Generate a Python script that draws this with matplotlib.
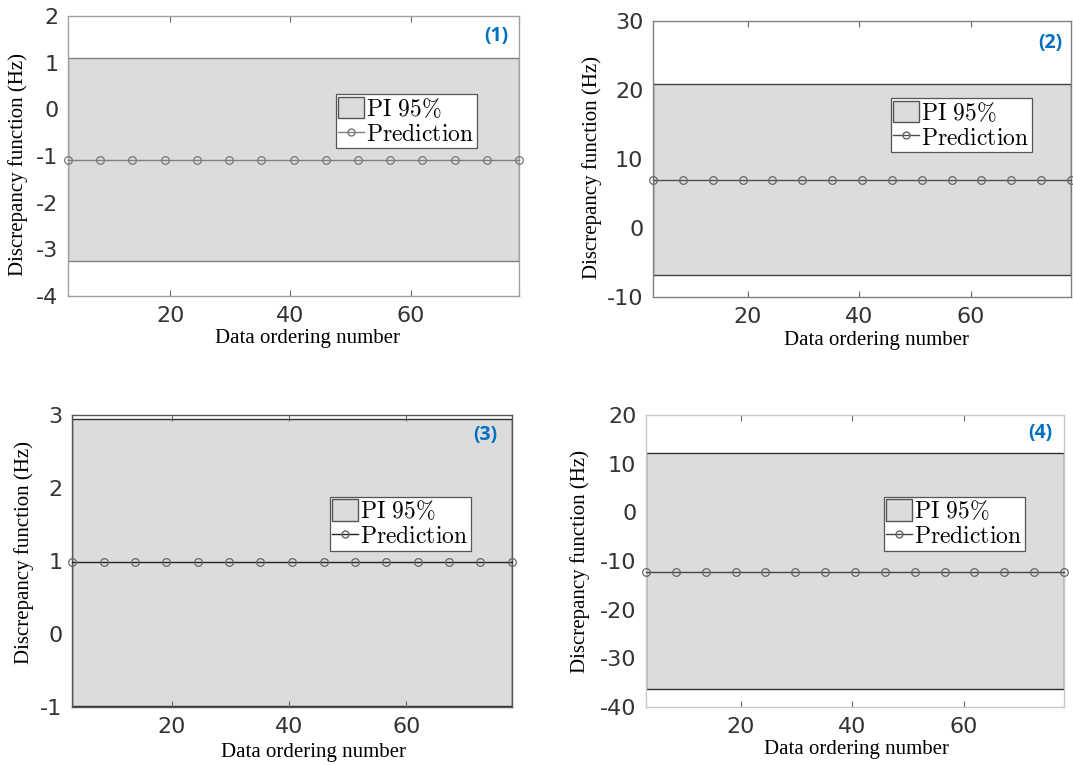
import matplotlib
matplotlib.use("Agg")
import matplotlib.pyplot as plt
from matplotlib.patches import Patch
from matplotlib.lines import Line2D

plt.rcParams['mathtext.fontset'] = 'cm'

# ---- data ----
panel_labels = ["(1)", "(2)", "(3)", "(4)"]
x_points = [3, 8.4, 13.7, 19.1, 24.4, 29.8, 35.1, 40.5, 45.9, 51.2, 56.6, 61.9, 67.3, 72.6, 78]
pred_1 = [-1.08] * 15
pred_2 = [7.0] * 15
pred_3 = [0.98] * 15
pred_4 = [-12.2] * 15
band_lo = [-3.24, -6.8, -0.98, -36.2]
band_hi = [1.10, 20.8, 2.95, 12.2]
ylims = [(-4, 2), (-10, 30), (-1, 3), (-40, 20)]
yticks_list = [[-4, -3, -2, -1, 0, 1, 2],
               [-10, 0, 10, 20, 30],
               [-1, 0, 1, 2, 3],
               [-40, -30, -20, -10, 0, 10, 20]]
xticks = [20, 40, 60]
xlim = (3, 78)
preds = [pred_1, pred_2, pred_3, pred_4]

# ---- layout / style (pixels converted to figure fractions) ----
W, H = 1073, 765
boxes_px = [(68, 16, 519, 296), (653, 21, 1071, 297), (72, 415, 512, 707), (646, 415, 1064, 707)]
ylabel_xy = [(-0.11, 0.468), (-0.146, 0.469), (-0.108, 0.529), (-0.158, 0.497)]
xlabel_xy = [(0.532, -0.153), (0.534, -0.157), (0.549, -0.155), (0.504, -0.145)]
plabel_xy = [(0.95, 0.93), (0.95, 0.92), (0.94, 0.93), (0.944, 0.94)]
spine_col = ['#a0a0a0', '#808080', '#555555', '#c8c8c8']
band_edge = ['#808080', '#404040', '#303030', '#303030']
line_col = ['#808080', '#505050', '#222222', '#444444']
marker_col = ['#777777', '#666666', '#666666', '#666666']

fig = plt.figure(figsize=(W / 100, H / 100), dpi=100)

for i in range(4):
    l, t, r, b = boxes_px[i]
    ax = fig.add_axes([l / W, 1 - b / H, (r - l) / W, (b - t) / H])
    ax.fill_between(x_points, band_lo[i], band_hi[i], facecolor='#dcdcdc',
                    edgecolor=band_edge[i], linewidth=1.0, zorder=1)
    ax.plot(x_points, preds[i], color=line_col[i], linewidth=1.0, marker='o',
            markersize=5.5, markerfacecolor='none', markeredgecolor=marker_col[i],
            markeredgewidth=0.9, clip_on=False, zorder=3)
    ax.set_xlim(*xlim)
    ax.set_ylim(*ylims[i])
    ax.set_xticks(xticks)
    ax.set_yticks(yticks_list[i])
    ax.set_yticklabels([str(v) for v in yticks_list[i]])
    ax.tick_params(axis='x', direction='in', top=True, length=4, width=0.8,
                   color='#666666', labelsize=16, labelcolor='#333333', pad=7)
    ax.tick_params(axis='y', length=0, labelsize=16, labelcolor='#333333', pad=7)
    for sp in ax.spines.values():
        sp.set_color(spine_col[i])
        sp.set_linewidth(1.0)
    ax.set_ylabel("Discrepancy function (Hz)", family='Liberation Serif', fontsize=15,
                  va='center')
    ax.yaxis.set_label_coords(*ylabel_xy[i])
    ax.set_xlabel("Data ordering number", family='Liberation Serif', fontsize=15,
                  va='center')
    ax.xaxis.set_label_coords(*xlabel_xy[i])
    ax.text(plabel_xy[i][0], plabel_xy[i][1], panel_labels[i], transform=ax.transAxes,
            ha='center', va='center', color='#0070C0', fontsize=14,
            fontweight='bold', family='Open Sans')
    handles = [Patch(facecolor='#dcdcdc', edgecolor='#555555', linewidth=1.0),
               Line2D([], [], color=line_col[i], linewidth=1.0, marker='o', markersize=5,
                      markerfacecolor='none', markeredgecolor=marker_col[i])]
    leg = ax.legend(handles, [r'$\mathrm{PI\ 95\%}$', r'$\mathrm{Prediction}$'],
                    loc='upper right', bbox_to_anchor=(0.906, 0.72), fontsize=17,
                    frameon=True, fancybox=False, edgecolor='#555555', framealpha=1,
                    borderpad=0.1, labelspacing=0.05, handlelength=1.1,
                    handleheight=1.0, handletextpad=0.1, borderaxespad=0)
    leg.get_frame().set_linewidth(0.9)

fig.savefig("out.png", dpi=100)
